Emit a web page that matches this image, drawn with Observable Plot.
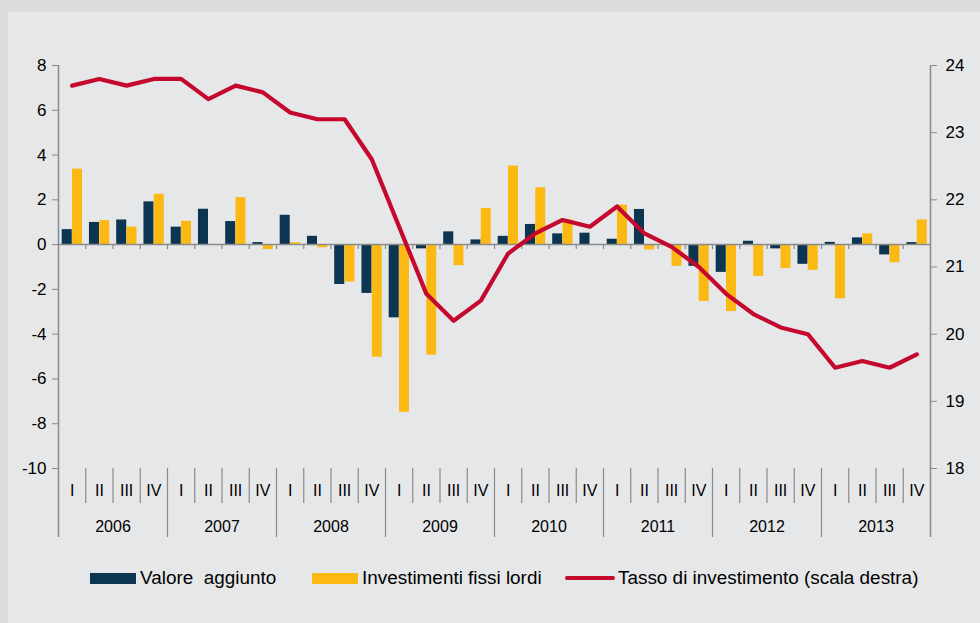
<!DOCTYPE html>
<html>
<head>
<meta charset="utf-8">
<script src="https://cdn.jsdelivr.net/npm/d3@7"></script>
<script src="https://cdn.jsdelivr.net/npm/@observablehq/plot@0.6"></script>
<style>
  html, body { margin: 0; padding: 0; background: #dcdddf; }
  #wrap { position: relative; width: 980px; height: 623px; overflow: hidden;
          font-family: "Liberation Sans", Arial, sans-serif; color: #000; }
  #panel { position: absolute; left: 8px; top: 12px; right: 0; bottom: 0; background: #e6e7e9; }
  #chart { position: absolute; left: 0; top: 0; }
  #legend { position: absolute; left: 0; top: 545px; width: 980px; height: 78px; font-size: 17.5px; }
  .sw { position: absolute; }
  .lt { position: absolute; top: 22px; line-height: 22px; white-space: pre; transform: scaleX(1.08); transform-origin: 0 50%; }
</style>
</head>
<body>
<div id="wrap">
  <div id="panel"></div>
  <div id="chart"></div>
  <div id="legend">
    <div class="sw" style="left:90px;top:28px;width:46px;height:11px;background:#0b3550"></div>
    <div class="lt" style="left:140px">Valore  aggiunto</div>
    <div class="sw" style="left:312px;top:28px;width:46px;height:11px;background:#fdb913"></div>
    <div class="lt" style="left:362px">Investimenti fissi lordi</div>
    <div class="sw" style="left:565px;top:31px;width:50px;height:4px;border-radius:2px;background:#c5082d"></div>
    <div class="lt" style="left:618px">Tasso di investimento (scala destra)</div>
  </div>
</div>
<script>
// ---- data ----
const years = ["2006", "2007", "2008", "2009", "2010", "2011", "2012", "2013"];
const quarterLabels = ["I", "II", "III", "IV"];
const valoreAggiunto = [
  0.67, 0.99, 1.10, 1.91,
  0.78, 1.58, 1.03, 0.09,
  1.31, 0.37, -1.78, -2.18,
  -3.27, -0.19, 0.57, 0.21,
  0.37, 0.90, 0.48, 0.51,
  0.24, 1.57, 0.00, -0.97,
  -1.24, 0.15, -0.19, -0.88,
  0.10, 0.30, -0.46, 0.09
];
const investimentiFissiLordi = [
  3.37, 1.07, 0.78, 2.25,
  1.04, 0.00, 2.10, -0.22,
  0.08, -0.14, -1.67, -5.03,
  -7.49, -4.94, -0.94, 1.61,
  3.51, 2.54, 1.10, 0.00,
  1.76, -0.24, -0.97, -2.54,
  -2.99, -1.42, -1.07, -1.15,
  -2.42, 0.48, -0.81, 1.10
];
const tassoInvestimento = [
  23.7, 23.8, 23.7, 23.8,
  23.8, 23.5, 23.7, 23.6,
  23.3, 23.2, 23.2, 22.6,
  21.6, 20.6, 20.2, 20.5,
  21.2, 21.5, 21.7, 21.6,
  21.9, 21.5, 21.3, 21.0,
  20.6, 20.3, 20.1, 20.0,
  19.5, 19.6, 19.5, 19.7
];
const leftTicks = [-10, -8, -6, -4, -2, 0, 2, 4, 6, 8];
const rightTicks = [18, 19, 20, 21, 22, 23, 24];

// ---- table ----
const rows = years.flatMap((yr, yi) => quarterLabels.map((q, qi) => {
  const i = yi * 4 + qi;
  return { key: yr + "-" + q, year: yr, q, qi, va: valoreAggiunto[i], ifl: investimentiFissiLordi[i], tasso: tassoInvestimento[i] };
}));
const keys = rows.map(d => d.key);

// right scale (18..24) mapped onto left scale (-10..8)
const leftDom = [-10, 8], rightDom = [18, 24];
const toLeft = v => leftDom[0] + (v - rightDom[0]) * (leftDom[1] - leftDom[0]) / (rightDom[1] - rightDom[0]);
const fromLeft = v => rightDom[0] + (v - leftDom[0]) * (rightDom[1] - rightDom[0]) / (leftDom[1] - leftDom[0]);

const W = 980, H = 545, mL = 58, mR = 50, mT = 65, mB = 77;
const bw = (W - mL - mR) / keys.length;
const pxPerUnit = (H - mB - mT) / (leftDom[1] - leftDom[0]);
const qSepBottom = leftDom[0] - 35 / pxPerUnit;
const ySepBottom = leftDom[0] - 69 / pxPerUnit;
const grey = "#8a8a8a";

const yearRows = years.map((yr, yi) => ({ year: yr, key: keys[yi * 4 + 1] }));

const chart = Plot.plot({
  width: W, height: H,
  marginLeft: mL, marginRight: mR, marginTop: mT, marginBottom: mB,
  style: { background: "transparent", fontFamily: "'Liberation Sans', Arial, sans-serif", fontSize: "17px", color: "#000", overflow: "visible" },
  x: { type: "band", domain: keys, padding: 0, round: false, axis: null },
  y: { domain: leftDom, axis: null },
  marks: [
    Plot.barY(rows, { x: "key", y: "va", fill: "#0b3550", insetLeft: 3.7, insetRight: 13.5 }),
    Plot.barY(rows, { x: "key", y: "ifl", fill: "#fdb913", insetLeft: 14, insetRight: 3.25 }),
    Plot.ruleY([0], { stroke: grey, strokeWidth: 1.5 }),
    Plot.ruleX(rows.slice(1), { x: "key", dx: -bw / 2, y1: 0, y2: -5 / pxPerUnit, stroke: grey, strokeWidth: 1.2 }),
    // axis lines
    Plot.ruleX([keys[0]], { x: d => d, dx: -bw / 2, y1: leftDom[1], y2: ySepBottom, stroke: grey, strokeWidth: 1.5 }),
    Plot.ruleX([keys[keys.length - 1]], { x: d => d, dx: bw / 2, y1: leftDom[1], y2: ySepBottom, stroke: grey, strokeWidth: 1.5 }),
    // category separators
    Plot.ruleX(rows.filter(d => d.qi !== 0), { x: "key", dx: -bw / 2, y1: leftDom[0], y2: qSepBottom, stroke: grey, strokeWidth: 1.2 }),
    Plot.ruleX(rows.filter(d => d.qi === 0 && d.key !== keys[0]), { x: "key", dx: -bw / 2, y1: leftDom[0], y2: ySepBottom, stroke: grey, strokeWidth: 1.2 }),
    // category labels
    Plot.text(rows, { x: "key", y: leftDom[0], dy: 22, text: "q", fontSize: 16, fill: "#000" }),
    Plot.text(yearRows, { x: "key", y: leftDom[0], dy: 58, dx: bw / 2, text: "year", fontSize: 16, fill: "#000" }),
    // line
    Plot.line(rows, { x: "key", y: d => toLeft(d.tasso), stroke: "#c5082d", strokeWidth: 4.2 }),
    // axes
    Plot.axisY({ anchor: "left", ticks: leftTicks, tickSize: 6, tickPadding: 6, stroke: grey, fill: "#000", fontSize: 17, tickFormat: d => String(d) }),
    Plot.axisY({ anchor: "right", ticks: rightTicks.map(toLeft), tickSize: 6, tickPadding: 9, stroke: grey, fill: "#000", fontSize: 17, tickFormat: d => String(Math.round(fromLeft(d))) })
  ]
});
document.getElementById("chart").appendChild(chart);
</script>
</body>
</html>
